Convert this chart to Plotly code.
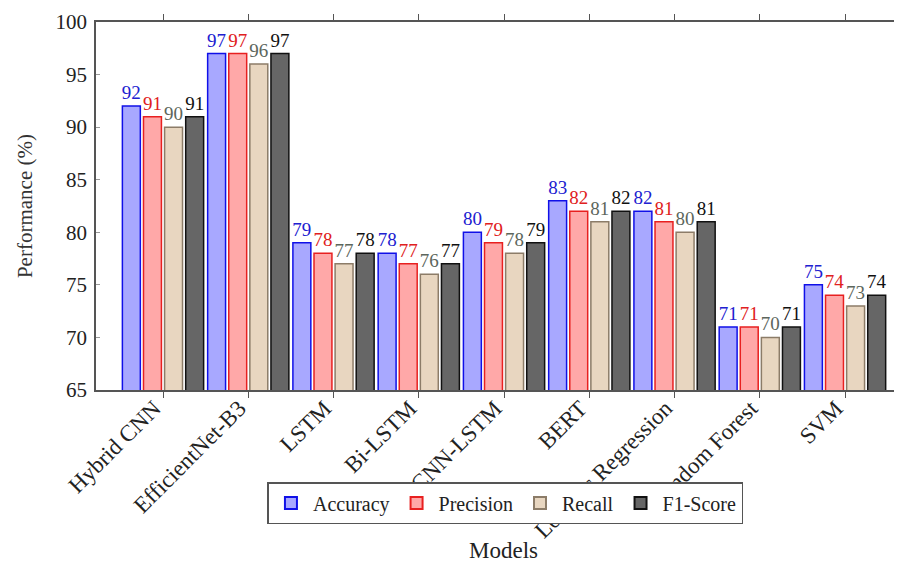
import plotly.graph_objects as go

models = ["Hybrid CNN", "EfficientNet-B3", "LSTM", "Bi-LSTM", "CNN-LSTM",
          "BERT", "Logistic Regression", "Random Forest", "SVM"]
accuracy = [92, 97, 79, 78, 80, 83, 82, 71, 75]
precision = [91, 97, 78, 77, 79, 82, 81, 71, 74]
recall = [90, 96, 77, 76, 78, 81, 80, 70, 73]
f1_score = [91, 97, 78, 77, 79, 82, 81, 71, 74]
y_ticks = [65, 70, 75, 80, 85, 90, 95, 100]

FONT = "Liberation Serif"
series = [
    ("Accuracy", accuracy, "#a8a8ff", "#1010e8", "#2020d0"),
    ("Precision", precision, "#ffa8a8", "#e82020", "#e02020"),
    ("Recall", recall, "#e8d6c0", "#8c7c68", "#5c665c"),
    ("F1-Score", f1_score, "#666666", "#111111", "#111111"),
]

xpos = list(range(len(models)))
fig = go.Figure()
for name, vals, fill, edge, tcol in series:
    fig.add_trace(go.Bar(
        x=xpos, y=vals, name=name,
        marker=dict(color=fill, line=dict(color=edge, width=1.5)),
        text=[str(v) for v in vals], textposition="outside",
        constraintext="none", cliponaxis=False,
        textfont=dict(family=FONT, size=19, color=tcol),
    ))

fig.update_layout(
    width=902, height=563,
    barmode="group", bargap=0.01, bargroupgap=0.15,
    plot_bgcolor="white", paper_bgcolor="white",
    margin=dict(l=88, r=8, t=14, b=181, autoexpand=False),
    font=dict(family=FONT, size=20, color="#222"),
    showlegend=True,
    legend=dict(orientation="h", x=0.508, xanchor="center", y=-0.25, yanchor="top",
                bordercolor="#555", borderwidth=1.5, bgcolor="white",
                font=dict(family=FONT, size=20, color="#222"),
                itemsizing="constant", traceorder="normal", itemwidth=34),
    uniformtext=dict(mode=False),
)
fig.update_xaxes(
    range=[-0.786, 8.668], tickmode="array", tickvals=xpos, ticktext=models,
    tickangle=-45, ticks="outside", ticklen=6, tickcolor="#555",
    showline=True, linecolor="#555", linewidth=1.5, mirror="ticks",
    showgrid=False, zeroline=False, automargin=False,
    ticklabelstandoff=-12, ticklabelshift=-9,
    tickfont=dict(family=FONT, size=23, color="#222"),
)
fig.update_yaxes(
    range=[65, 100], tickmode="array", tickvals=y_ticks,
    ticks="inside", ticklen=4, tickcolor="#999",
    showline=True, linecolor="#555", linewidth=1.5, mirror=False,
    showgrid=False, zeroline=False, automargin=False, ticklabelstandoff=3,
    tickfont=dict(family=FONT, size=21, color="#222"),
)
fig.add_annotation(text="Models", xref="paper", yref="paper", x=0.505, y=-0.435,
                   xanchor="center", yanchor="middle",
                   showarrow=False, font=dict(family=FONT, size=23, color="#222"))
fig.add_annotation(text="Performance (%)", xref="paper", yref="paper", x=-0.088, y=0.5,
                   xanchor="center", yanchor="middle",
                   textangle=-90, showarrow=False,
                   font=dict(family=FONT, size=21, color="#333"))

fig.write_html("out.html")
